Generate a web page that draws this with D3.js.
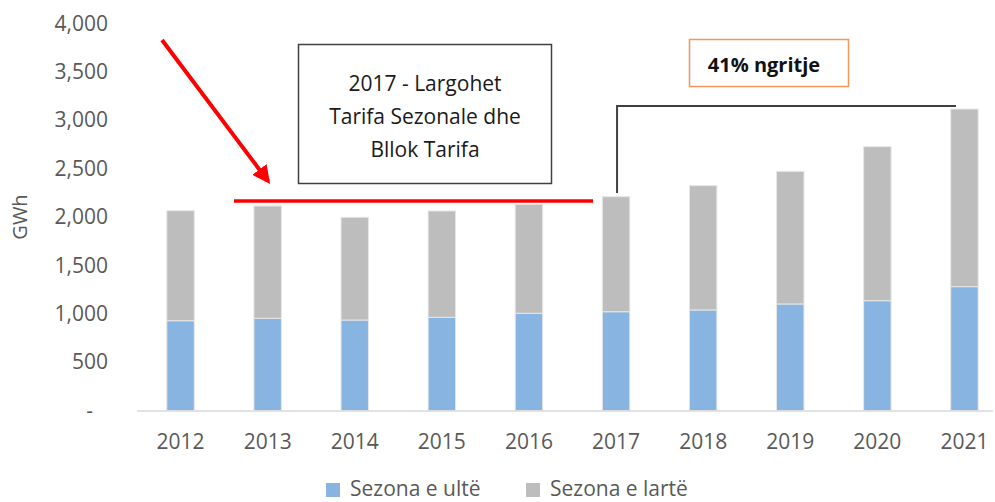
<!DOCTYPE html>
<html>
<head>
<meta charset="utf-8">
<script src="https://cdn.jsdelivr.net/npm/d3@7"></script>
<style>
  body { margin: 0; background: #fff; }
  text { font-family: "Open Sans", "Noto Sans", sans-serif; }
</style>
</head>
<body>
<div id="chart"></div>
<script>
const years = ["2012", "2013", "2014", "2015", "2016", "2017", "2018", "2019", "2020", "2021"]
const lowSeason = [928, 953, 935, 963, 1005, 1021, 1039, 1101, 1135, 1280]
const highSeason = [1137, 1161, 1062, 1099, 1126, 1189, 1285, 1371, 1592, 1836]
const yTicks = [0, 500, 1000, 1500, 2000, 2500, 3000, 3500, 4000]
const seriesNames = ["Sezona e ultë", "Sezona e lartë"]
const colors = ["#87B4E0", "#BDBDBD"]

const width = 995
const height = 502

const svg = d3.select('#chart')
        .append('svg')
            .attr("width", width)
            .attr("height", height)

const yScale = d3.scaleLinear()
.range([410.5, 23.5])
.domain([0, 4000])

const xScale = d3.scaleBand()
.range([137, 1008])
.domain(years)
.paddingInner(0.685)
.paddingOuter(0.3425)

// y axis labels
const yAxis = svg.append('g')
.attr('transform', 'translate(108,0)')
.call(d3.axisLeft(yScale)
    .tickValues(yTicks)
    .tickSize(0)
    .tickPadding(0)
    .tickFormat(d => d === 0 ? '-' : d3.format(',')(d)))
yAxis.select('.domain').remove()
yAxis.selectAll('text')
    .attr('fill', '#595959')
    .style('font-size', '21px')
    .attr('x', d => d === 0 ? -15 : 0)

svg.append('text')
.attr('x', -217)
.attr('y', 27)
.attr('transform', 'rotate(-90)')
.attr('text-anchor', 'middle')
.attr('fill', '#595959')
.style('font-size', '20px')
.text('GWh')

// stacked bars
const rows = years.map((y, i) => ({ year: y, low: lowSeason[i], high: highSeason[i] }))
const stack = d3.stack().keys(["low", "high"])(rows)

svg.append('g')
.selectAll('g')
.data(stack)
.enter()
.append('g')
    .attr('fill', (d, i) => colors[i])
    .selectAll('rect')
    .data(d => d)
    .enter()
    .append('rect')
        .attr('x', d => xScale(d.data.year))
        .attr('y', d => yScale(d[1]))
        .attr('height', d => yScale(d[0]) - yScale(d[1]))
        .attr('width', xScale.bandwidth())
        .attr('stroke', '#e6e6e6')
        .attr('stroke-width', 1)

// x axis
svg.append('line')
.attr('x1', 137)
.attr('x2', 993)
.attr('y1', yScale(0) + 0.5)
.attr('y2', yScale(0) + 0.5)
.attr('stroke', '#d9d9d9')
.attr('stroke-width', 1.5)

const xAxis = svg.append('g')
.attr('transform', 'translate(0,' + yScale(0) + ')')
.call(d3.axisBottom(xScale).tickSize(0).tickPadding(24))
xAxis.select('.domain').remove()
xAxis.selectAll('text')
    .attr('fill', '#595959')
    .style('font-size', '21px')

// red arrow + line
const defs = svg.append('defs')
defs.append('marker')
.attr('id', 'arrow')
.attr('viewBox', '0 0 10 10')
.attr('refX', 8)
.attr('refY', 5)
.attr('markerWidth', 4.5)
.attr('markerHeight', 4.5)
.attr('orient', 'auto')
.append('path')
    .attr('d', 'M0,0 L10,5 L0,10 z')
    .attr('fill', '#ff0000')

svg.append('line')
.attr('x1', 162).attr('y1', 40)
.attr('x2', 268).attr('y2', 181)
.attr('stroke', '#ff0000')
.attr('stroke-width', 4)
.attr('marker-end', 'url(#arrow)')

svg.append('line')
.attr('x1', 234).attr('x2', 593)
.attr('y1', 201).attr('y2', 201)
.attr('stroke', '#ff0000')
.attr('stroke-width', 3.5)

// text box
svg.append('rect')
.attr('x', 298.5).attr('y', 44.5)
.attr('width', 253).attr('height', 139)
.attr('fill', '#fff')
.attr('stroke', '#404040')
.attr('stroke-width', 1.5)

const boxLines = ["2017 - Largohet", "Tarifa Sezonale dhe", "Bllok Tarifa"]
svg.append('text')
.attr('x', 425)
.attr('y', 91)
.attr('text-anchor', 'middle')
.attr('fill', '#1a1a1a')
.style('font-size', '21px')
.selectAll('tspan')
.data(boxLines)
.enter()
.append('tspan')
    .attr('x', 425)
    .attr('dy', (d, i) => i === 0 ? 0 : 33)
    .text(d => d)

// bracket
const bx = xScale("2017") + xScale.bandwidth() / 2 + 1
svg.append('path')
.attr('d', 'M' + bx + ',193 V106 H956')
.attr('fill', 'none')
.attr('stroke', '#404040')
.attr('stroke-width', 2)

// 41% box
svg.append('rect')
.attr('x', 689.5).attr('y', 39.5)
.attr('width', 159).attr('height', 47)
.attr('fill', '#fff')
.attr('stroke', '#F4955A')
.attr('stroke-width', 1.5)

svg.append('text')
.attr('x', 764)
.attr('y', 72)
.attr('text-anchor', 'middle')
.attr('fill', '#111')
.style('font-size', '20px')
.style('font-weight', 'bold')
.text('41% ngritje')

// legend
const legend = svg.append('g')
const legendX = [326, 526]
seriesNames.forEach((name, i) => {
    legend.append('rect')
        .attr('x', legendX[i]).attr('y', 483)
        .attr('width', 14).attr('height', 14)
        .attr('fill', colors[i])
    legend.append('text')
        .attr('x', legendX[i] + 24).attr('y', 496)
        .attr('fill', '#595959')
        .style('font-size', '21px')
        .text(name)
})
</script>
</body>
</html>
